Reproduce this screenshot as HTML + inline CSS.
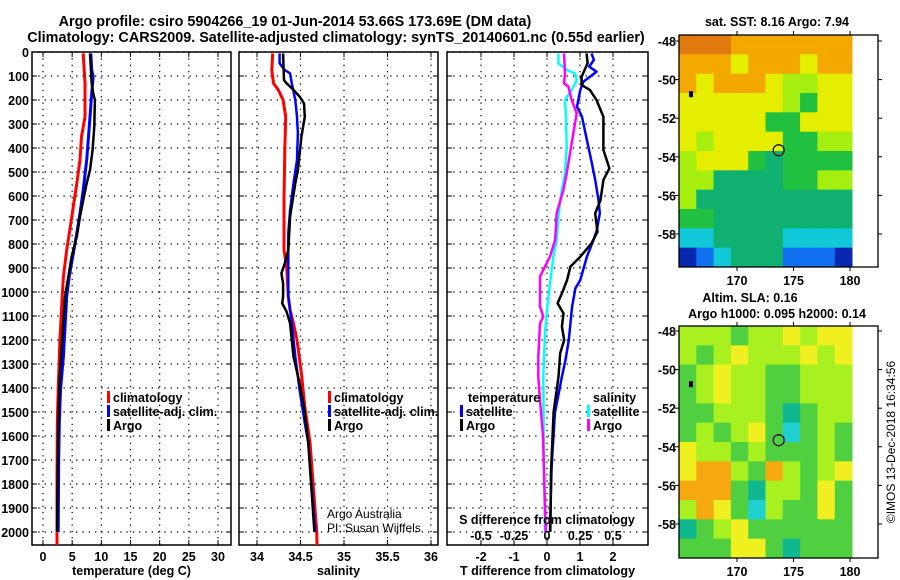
<!DOCTYPE html>
<html><head><meta charset="utf-8"><style>
html,body{margin:0;padding:0;background:#fff;}
svg{display:block;font-family:"Liberation Sans",sans-serif;}
.t{font-weight:bold;font-size:14.4px;}
.tk{font-weight:bold;font-size:12.5px;}
</style></head><body>
<svg id="c" width="900" height="580" viewBox="0 0 900 580" xmlns="http://www.w3.org/2000/svg"></svg>
<script>
// ---- data ----
const tempClimDepth=[6,131,270,353,450,547,644,742,825,936,1019,1200,1408,1546,1800,2054];
const tempClim=[6.9,7.2,7.2,6.6,6.35,5.8,5.2,4.6,4.06,3.5,3.3,2.9,2.6,2.45,2.4,2.4];
const tempSatDepth=[6,75,103,172,270,353,450,575,672,755,839,936,1019,1131,1269,1408,1546,1700,2000];
const tempSat=[8.2,8.35,8.6,8.35,8.05,7.8,7.5,6.9,6.35,5.8,5.2,4.5,4.06,3.8,3.5,3.0,2.8,2.7,2.6];
const tempArgoDepth=[6,131,172,200,311,408,492,547,617,686,769,853,936,1019,1339,1546,2000];
const tempArgo=[8.05,8.35,8.6,8.9,8.8,8.5,8.05,7.5,6.9,6.35,5.8,4.9,4.35,3.77,2.9,2.6,2.4];
const salClimDepth=[6,75,131,158,200,270,408,617,825,894,1019,1075,1131,1200,1339,1478,1631,2000,2054];
const salClim=[34.18,34.17,34.19,34.245,34.30,34.33,34.32,34.31,34.31,34.34,34.36,34.38,34.42,34.46,34.51,34.55,34.61,34.686,34.69];
const salSatDepth=[6,47,75,89,131,200,270,339,450,547,658,755,894,1019,1131,1269,1408,1546,1629,2000];
const salSat=[34.26,34.26,34.32,34.38,34.40,34.44,34.46,34.47,34.46,34.42,34.38,34.36,34.36,34.36,34.40,34.44,34.49,34.55,34.59,34.67];
const salArgoDepth=[6,117,131,158,186,214,270,353,492,547,686,825,881,922,964,1019,1047,1082,1131,1269,1381,1478,1629,2000];
const salArgo=[34.30,34.31,34.34,34.42,34.49,34.54,34.55,34.51,34.47,34.44,34.38,34.36,34.32,34.28,34.30,34.30,34.29,34.34,34.38,34.42,34.49,34.54,34.59,34.66];
const dTArgoDepth=[6,47,103,137,158,200,270,408,485,533,617,672,749,797,853,894,950,1006,1047,1089,1144,1200,1255,1353,1500,1750,2000];
const dTArgo=[1.20,1.23,1.05,1.05,1.30,1.50,1.71,1.71,1.89,1.71,1.62,1.46,1.53,1.35,1.01,0.71,0.61,0.45,0.32,0.50,0.45,0.52,0.40,0.35,0.2,0.12,0.1];
const dTSatDepth=[6,33,61,82,124,158,228,270,367,464,533,617,672,742,783,853,950,985,1061,1200,1283,1353,1504,1729,2000];
const dTSat=[1.35,1.42,1.28,1.50,1.10,1.01,0.91,1.06,1.21,1.36,1.46,1.56,1.60,1.51,1.41,1.21,1.01,0.86,0.76,0.66,0.56,0.45,0.24,0.14,0.09];
const dSSatDepth=[6,47,75,89,117,158,200,270,394,505,603,686,783,853,964,1061,1172,1353,1600,2000];
const dSSat=[0.086,0.086,0.149,0.212,0.225,0.187,0.136,0.144,0.149,0.136,0.104,0.086,0.073,0.048,0.023,0.003,-0.015,-0.028,-0.025,-0.015];
const dSArgoDepth=[6,89,131,144,172,200,256,339,422,505,575,672,728,783,853,894,936,1061,1103,1131,1269,1353,1450,1600,2000];
const dSArgo=[0.129,0.136,0.129,0.162,0.174,0.187,0.225,0.199,0.174,0.149,0.124,0.073,0.068,0.061,0.023,-0.015,-0.053,-0.053,-0.028,-0.053,-0.066,-0.066,-0.053,-0.03,-0.01];
const depthTicks=[0,100,200,300,400,500,600,700,800,900,1000,1100,1200,1300,1400,1500,1600,1700,1800,1900,2000];
const tempTicks=[0,5,10,15,20,25,30];
const salTicks=[34,34.5,35,35.5,36];
const salTickLabels=["34","34.5","35","35.5","36"];
const dTTicks=[-2,-1,0,1,2];
const dSTicks=[-0.5,-0.25,0,0.25,0.5];
const dSTickLabels=["-0.5","-0.25","0","0.25","0.5"];
const latTicks=[48,50,52,54,56,58];
const lonTicks=[170,175,180];
const sstGrid=["RRROOOOOOO","OOOYOOOYOO","OYOOOYLLYY","YYYYYYLGYY","YYYYYGGYYY","YLYYYYGGLL","LYYYGTGGGG","LLTTTTGGLL","LTTTTTTTTT","GGTTTTTTTT","CCTTTTCCCC","DBCTTTBBBD"];
const slaGrid=["LLLGLLYLYY","LGLYLLLYLY","GLYLLGGLLL","GLYLLGGLLL","GGLLLGTGLL","GLGLYGCGLG","YLLGLGGGLG","YOOLGOLGLY","OOOGTLLGYG","LOYGCLGGYG","TGLYGGGGGG","GGGYYGTGGG"];
const argoLon=173.69, argoLat=53.66;

// ---- helpers ----
const svg=document.getElementById('c');
const NS='http://www.w3.org/2000/svg';
function mk(tag,attrs,parent){const e=document.createElementNS(NS,tag);for(const k in attrs)e.setAttribute(k,attrs[k]);(parent||svg).appendChild(e);return e;}
function txt(s,x,y,cls,anchor,parent){const e=mk('text',{x:x,y:y,class:cls,'text-anchor':anchor||'middle'},parent);e.textContent=s;return e;}
const Y0=52, PXM=0.24;
function yD(d){return Y0+d*PXM;}
const BOT=545;
function xT(v){return 43+v*5.833;}
function xS(v){return 257+(v-34)*87;}
function xDT(v){return 547+v*33;}
function xDS(v){return 547+v*132;}

// title
let e;
e=txt('Argo profile: csiro 5904266_19 01-Jun-2014 53.66S 173.69E (DM data)',295,26,'t');


e=txt('Climatology: CARS2009. Satellite-adjusted climatology: synTS_20140601.nc (0.55d earlier)',336,42,'t');



function panel(name,x0,x1,ticks,xf,labels,xlabel){
  const g=mk('g',{});
  
  
  depthTicks.forEach(d=>{mk('line',{x1:x0,x2:x1,y1:yD(d),y2:yD(d),stroke:'#000','stroke-width':1.2,'stroke-dasharray':'1.3,5'},g);
    mk('line',{x1:x0,x2:x0+5,y1:yD(d),y2:yD(d),stroke:'#000'},g);mk('line',{x1:x1-5,x2:x1,y1:yD(d),y2:yD(d),stroke:'#000'},g);});
  ticks.forEach((t,i)=>{const x=xf(t);mk('line',{x1:x,x2:x,y1:Y0,y2:BOT,stroke:'#000','stroke-width':1.2,'stroke-dasharray':'1.3,5'},g);
    mk('line',{x1:x,x2:x,y1:BOT-5,y2:BOT,stroke:'#000'},g);mk('line',{x1:x,x2:x,y1:Y0,y2:Y0+5,stroke:'#000'},g);
    if(labels){const l=txt(labels[i],x,561,'tk','middle',g);}});
  mk('rect',{x:x0,y:Y0,width:x1-x0,height:BOT-Y0,fill:'none',stroke:'#000','stroke-width':1.5},g);
  const xl=txt(xlabel,(x0+x1)/2,575,'tk','middle',g);
  
  
  return g;
}
function line(g,vals,depths,xf,color,w,name){
  const pts=vals.map((v,i)=>xf(v).toFixed(1)+','+yD(depths[i]).toFixed(1)).join(' ');
  const p=mk('polyline',{points:pts,fill:'none',stroke:color,'stroke-width':w,'stroke-linejoin':'round'},g);
  
  
}
// y tick labels
depthTicks.forEach(d=>{const l=txt(String(d),29,yD(d)+5,'tk','end');
  
  });

const g1=panel('temperature-panel',32,231,tempTicks,xT,tempTicks.map(String),'temperature (deg C)');
line(g1,tempClim,tempClimDepth,xT,'#f00',3,'temp-climatology-line');
line(g1,tempSat,tempSatDepth,xT,'#00f',3,'temp-satellite-line');
line(g1,tempArgo,tempArgoDepth,xT,'#000',2.5,'temp-argo-line');
const g2=panel('salinity-panel',239,438,salTicks,xS,salTickLabels,'salinity');
line(g2,salClim,salClimDepth,xS,'#f00',3,'sal-climatology-line');
line(g2,salSat,salSatDepth,xS,'#00f',2.5,'sal-satellite-line');
line(g2,salArgo,salArgoDepth,xS,'#000',2.5,'sal-argo-line');
const g3=panel('difference-panel',447,648,dTTicks,xDT,dTTicks.map(String),'T difference from climatology');
line(g3,dSSat,dSSatDepth,xDS,'#0ff',2.5,'sal-diff-satellite-line');
line(g3,dSArgo,dSArgoDepth,xDS,'#f0f',2.5,'sal-diff-argo-line');
line(g3,dTSat,dTSatDepth,xDT,'#00f',2.5,'temp-diff-satellite-line');
line(g3,dTArgo,dTArgoDepth,xDT,'#000',2.5,'temp-diff-argo-line');
e=txt('S difference from climatology',547,524,'tk');


dSTicks.forEach((t,i)=>{const l=txt(dSTickLabels[i],xDS(t),540,'tk');
  
  });

function legend(x,y,color,label,name){
  const g=mk('g',{});
  
  
  mk('rect',{x:x,y:y-11,width:3,height:12,fill:color},g);
  txt(label,x+6,y,'tk','start',g);
}
[[107,'#f00','climatology'],[107,'#00f','satellite-adj. clim.'],[107,'#000','Argo']].forEach((l,i)=>legend(l[0],402+i*14,l[1],l[2],'legend-entry'));
[[328,'#f00','climatology'],[328,'#00f','satellite-adj. clim.'],[328,'#000','Argo']].forEach((l,i)=>legend(l[0],402+i*14,l[1],l[2],'legend-entry'));
e=txt('temperature',468,402,'tk','start');
legend(460,416,'#00f','satellite','legend-entry');legend(460,430,'#000','Argo','legend-entry');
e=txt('salinity',593,402,'tk','start');
legend(587,416,'#0ff','satellite','legend-entry');legend(587,430,'#f0f','Argo','legend-entry');
e=txt('Argo Australia',327,518,'','start');e.setAttribute('font-size','12');
e=txt('PI: Susan Wijffels',327,532,'','start');e.setAttribute('font-size','12');

// maps
const COL={R:'#e07a10',O:'#f3a800',Y:'#e6ee00',L:'#a6ee10',G:'#22c040',T:'#10b070',C:'#10c8d8',B:'#1070f0',D:'#0828b0'};
const COL2={R:'#e07a10',O:'#f5a810',Y:'#f0f020',L:'#a8f020',G:'#50d040',T:'#10b890',C:'#20d0d0',B:'#1070f0',D:'#0828b0'};
function map(name,top,grid,cols,latY0){
  const g=mk('g',{});
  
  
  const bx=679,bw=199,ix1=852;
  const bottom=top+232;
  const latY=lat=>latY0+(lat-48)*19.3;
  const lonX=lon=>737+(lon-170)*11.3;
  const rows=grid.length, nc=grid[0].length;
  const ch=(bottom-top)/rows, cw=(ix1-bx)/nc;
  grid.forEach((r,i)=>{for(let j=0;j<nc;j++){mk('rect',{x:bx+j*cw,y:top+i*ch,width:cw+0.5,height:ch+0.5,fill:cols[r[j]]},g);}});
  mk('rect',{x:bx,y:top,width:bw,height:bottom-top,fill:'none',stroke:'#000','stroke-width':1.3},g);
  latTicks.forEach(l=>{const y=latY(l);mk('line',{x1:bx-4,x2:bx,y1:y,y2:y,stroke:'#000'},g);mk('line',{x1:bx+bw,x2:bx+bw+4,y1:y,y2:y,stroke:'#000'},g);
    const t=txt('-'+l,676,y+5,'tk','end',g);});
  lonTicks.forEach(l=>{const x=lonX(l);mk('line',{x1:x,x2:x,y1:top-4,y2:top,stroke:'#000'},g);mk('line',{x1:x,x2:x,y1:bottom,y2:bottom+4,stroke:'#000'},g);
    const t=txt(String(l),x,bottom+18,'tk','middle',g);});
  const c=mk('circle',{cx:lonX(argoLon),cy:latY(argoLat),r:5.5,fill:'none',stroke:'#000','stroke-width':1.2},g);
  
  
  mk('rect',{x:689,y:latY(50.6),width:4,height:6,fill:'#000'},g);
}
map('sst-map',35,sstGrid,COL,41);
map('sla-map',326,slaGrid,COL2,331);
e=txt('sat. SST: 8.16 Argo: 7.94',777,26,'tk');
e=txt('Altim. SLA: 0.16',750,302,'tk');
e=txt('Argo h1000: 0.095 h2000: 0.14',777,318,'tk');
e=txt('©IMOS 13-Dec-2018 16:34:56',0,0,'','middle');
e.setAttribute('font-size','12');
e.setAttribute('transform','translate(895,442) rotate(-90)');


</script>
</body></html>
